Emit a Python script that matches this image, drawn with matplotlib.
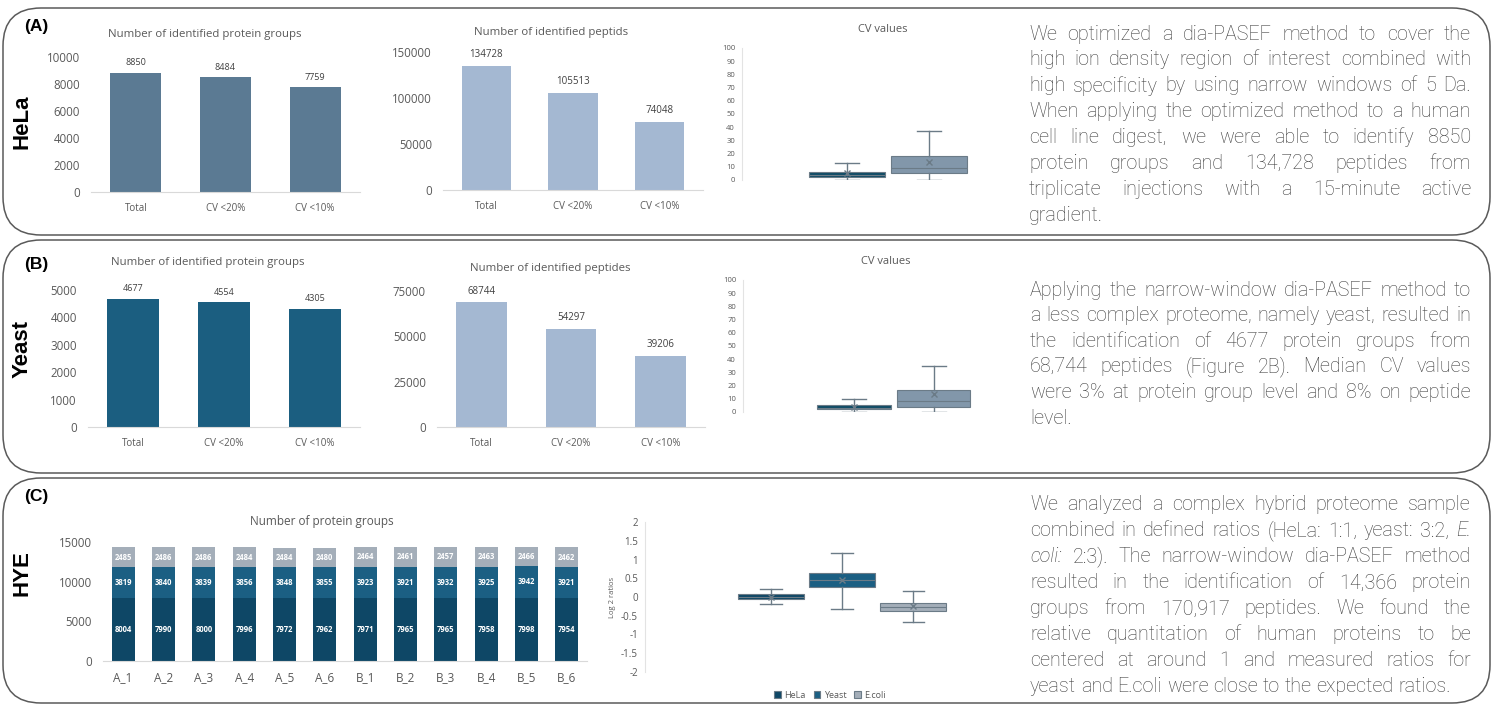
import matplotlib
matplotlib.use('Agg')
import matplotlib.pyplot as plt
from matplotlib.patches import FancyBboxPatch

W, H = 1494, 704

# ---- data ----
cv_cats = ['Total', 'CV <20%', 'CV <10%']
hela_prot = [8850, 8484, 7759]
hela_pep = [134728, 105513, 74048]
yeast_prot = [4677, 4554, 4305]
yeast_pep = [68744, 54297, 39206]

cv_labels = ['Protein Groups', 'Peptides']
# whislo, q1, median, q3, whishi, mean
hela_cv_prot = [0, 2, 4, 6, 13, 5]
hela_cv_pep = [0, 5, 9, 18, 37, 14]
yeast_cv_prot = [0, 2, 3, 5, 10, 4]
yeast_cv_pep = [0, 4, 8, 17, 35, 14]

runs = ['A_1', 'A_2', 'A_3', 'A_4', 'A_5', 'A_6',
        'B_1', 'B_2', 'B_3', 'B_4', 'B_5', 'B_6']
hye_hela = [8004, 7990, 8000, 7996, 7972, 7962, 7971, 7965, 7965, 7958, 7998, 7954]
hye_yeast = [3819, 3840, 3839, 3856, 3848, 3855, 3923, 3921, 3932, 3925, 3942, 3921]
hye_ecoli = [2485, 2486, 2486, 2484, 2484, 2480, 2464, 2461, 2457, 2463, 2466, 2462]

species = ['HeLa', 'Yeast', 'E.coli']
log2_hela = [-0.19, -0.05, 0.0, 0.07, 0.21, 0.01]
log2_yeast = [-0.32, 0.27, 0.45, 0.64, 1.17, 0.45]
log2_ecoli = [-0.67, -0.37, -0.27, -0.16, 0.16, -0.25]

text_a = ["We optimized a dia-PASEF method to cover the",
          "high ion density region of interest combined with",
          "high specificity by using narrow windows of 5 Da.",
          "When applying the optimized method to a human",
          "cell line digest, we were able to identify 8850",
          "protein groups and 134,728 peptides from",
          "triplicate injections with a 15-minute active",
          "gradient."]
text_b = ["Applying the narrow-window dia-PASEF method to",
          "a less complex proteome, namely yeast, resulted in",
          "the identification of 4677 protein groups from",
          "68,744 peptides (Figure 2B). Median CV values",
          "were 3% at protein group level and 8% on peptide",
          "level."]
text_c = ["We analyzed a complex hybrid proteome sample",
          "combined in defined ratios (HeLa: 1:1, yeast: 3:2, E.",
          "coli: 2:3). The narrow-window dia-PASEF method",
          "resulted in the identification of 14,366 protein",
          "groups from 170,917 peptides. We found the",
          "relative quantitation of human proteins to be",
          "centered at around 1 and measured ratios for",
          "yeast and E.coli were close to the expected ratios."]

plt.rcParams['font.family'] = ['Open Sans', 'DejaVu Sans']
GREY = '#595959'

fig = plt.figure(figsize=(W / 100, H / 100), dpi=100)

# background axes in pixel coordinates (y downwards)
bg = fig.add_axes([0, 0, 1, 1])
bg.set_xlim(0, W)
bg.set_ylim(H, 0)
bg.axis('off')
bg.set_zorder(-5)

for y0, y1 in [(8, 235), (240, 473), (478, 703)]:
    bg.add_patch(FancyBboxPatch((3, y0), W - 7, y1 - y0,
                                boxstyle='round,pad=0,rounding_size=38',
                                fc='white', ec='#5a5a5a', lw=1.1))

for lab, name, yl, yn in [('(A)', 'HeLa', 26, 122), ('(B)', 'Yeast', 264, 349),
                          ('(C)', 'HYE', 497, 573)]:
    bg.text(24, yl, lab, fontsize=12.5, weight='bold', family='Liberation Sans',
            va='center', ha='left')
    bg.text(22, yn, name, fontsize=16, weight='bold', family='Liberation Sans',
            rotation=90, va='center', ha='center')


def px_axes(x0, y0, x1, y1):
    return fig.add_axes([x0 / W, 1 - y1 / H, (x1 - x0) / W, (y1 - y0) / H])


def clean(ax, left=False, bottom=True, size=8, pad=8):
    for s in ['top', 'right', 'left', 'bottom']:
        ax.spines[s].set_visible(False)
    if bottom:
        ax.spines['bottom'].set_visible(True)
        ax.spines['bottom'].set_color('#d9d9d9')
    if left:
        ax.spines['left'].set_visible(True)
        ax.spines['left'].set_color('#e3e3e3')
    ax.tick_params(length=0, labelsize=size, colors=GREY, pad=pad)
    ax.patch.set_alpha(0)


def bar_panel(box, values, color, ymax, step, lab_size, title, tx, ty):
    ax = px_axes(*box)
    bars = ax.bar(cv_cats, values, width=0.57, color=color)
    ax.bar_label(bars, padding=4, fontsize=lab_size, color='#404040')
    ax.set_ylim(0, ymax)
    ax.set_yticks(range(0, ymax + 1, step))
    ax.set_xlim(-0.5, 2.5)
    clean(ax, size=8.3)
    ax.tick_params(axis='x', labelsize=7, pad=8)
    bg.text(tx, ty, title, ha='center', va='center', fontsize=8.2, color=GREY)
    return ax


def box_panel(box, stats_vals, labels, colors, xlim, ylim, yticks, ysize, width=0.92):
    ax = px_axes(*box)
    stats = [dict(whislo=s[0], q1=s[1], med=s[2], q3=s[3], whishi=s[4], mean=s[5], label=l)
             for s, l in zip(stats_vals, labels)]
    line = dict(color='#6b7b87', lw=1)
    art = ax.bxp(stats, positions=range(1, len(stats) + 1), widths=width,
                 capwidths=0.3, patch_artist=True, showmeans=True, showfliers=False,
                 whiskerprops=line, capprops=line,
                 medianprops=dict(color='#6b7b87', lw=0.8),
                 meanprops=dict(marker='x', markeredgecolor='#6b7b87', markersize=4),
                 boxprops=dict(lw=0.8))
    for b, c in zip(art['boxes'], colors):
        b.set_facecolor(c)
        b.set_edgecolor('#6b7b87')
    ax.set_xlim(*xlim)
    ax.set_ylim(*ylim)
    ax.set_yticks(yticks)
    ax.set_xticks([])
    clean(ax, left=True, bottom=False, size=ysize, pad=5)
    return ax, art['boxes']


def legend(handles, labels, x, y, size):
    bg.legend(handles, labels, loc='center', bbox_to_anchor=(x, y),
              bbox_transform=bg.transData, ncol=len(labels), frameon=False,
              fontsize=size, handlelength=0.7, handleheight=0.7,
              handletextpad=0.4, columnspacing=0.9, labelcolor=GREY)


# ---- row A ----
bar_panel((91, 57, 360, 192), hela_prot, '#5b7a93', 10000, 2000, 6.5,
          'Number of identified protein groups', 205, 34)
bar_panel((443, 52, 703, 190), hela_pep, '#a4b8d2', 150000, 50000, 7,
          'Number of identified peptids', 551, 33)
ax, boxes = box_panel((742, 48, 992, 180), [hela_cv_prot, hela_cv_pep], cv_labels,
                      ['#0f4c66', '#8297aa'], (-0.28, 2.77), (0, 100),
                      range(0, 101, 10), 5.5)
bg.text(883, 30, 'CV values', ha='center', va='center', fontsize=8, color=GREY)
legend(boxes, cv_labels, 885, 202, 6)

# ---- row B ----
bar_panel((88, 290, 360, 427), yeast_prot, '#1b5e80', 5000, 1000, 6.5,
          'Number of identified protein groups', 208, 262)
bar_panel((437, 291, 705, 427), yeast_pep, '#a4b8d2', 75000, 25000, 7,
          'Number of identified peptides', 550, 268)
ax, boxes = box_panel((743, 280, 992, 412), [yeast_cv_prot, yeast_cv_pep], cv_labels,
                      ['#0f4c66', '#8297aa'], (-0.39, 2.73), (0, 100),
                      range(0, 101, 10), 5.5)
bg.text(886, 262, 'CV values', ha='center', va='center', fontsize=8, color=GREY)
legend(boxes, cv_labels, 887, 433, 6)

# ---- row C ----
ax = px_axes(103, 542, 587, 661)
b1 = ax.bar(runs, hye_hela, width=0.57, color='#0e4766')
b2 = ax.bar(runs, hye_yeast, width=0.57, bottom=hye_hela, color='#1b5f83')
tops = [a + b for a, b in zip(hye_hela, hye_yeast)]
b3 = ax.bar(runs, hye_ecoli, width=0.57, bottom=tops, color='#a4aeb9')
for bars in (b1, b2, b3):
    ax.bar_label(bars, label_type='center', fontsize=5.5, color='white', weight='bold')
ax.set_ylim(0, 15000)
ax.set_yticks(range(0, 15001, 5000))
ax.set_xlim(-0.5, 11.5)
clean(ax, size=8.3)
ax.tick_params(axis='x', pad=7, labelsize=8.5)
bg.text(322, 522, 'Number of protein groups', ha='center', va='center',
        fontsize=8.5, color=GREY)
legend([b1, b2, b3], species, 328, 697, 6.5)

ax, boxes = box_panel((645, 522, 990, 672), [log2_hela, log2_yeast, log2_ecoli], species,
                      ['#0e4766', '#1b5f83', '#a4aeb9'], (-0.77, 4.08), (-2, 2),
                      [-2, -1.5, -1, -0.5, 0, 0.5, 1, 1.5, 2], 7)
ax.set_yticklabels(['-2', '-1.5', '-1', '-0.5', '0', '0.5', '1', '1.5', '2'])
ax.set_ylabel('Log 2 ratios', fontsize=5.5, color=GREY, labelpad=4)
legend(boxes, species, 830, 695, 6.5)

# ---- justified paragraphs ----
renderer = fig.canvas.get_renderer()
TXT = dict(fontsize=14.2, family=['Roboto', 'DejaVu Sans'], weight='light', color='#3c3c3c')


def width_of(s, **kw):
    t = bg.text(0, 0, s, **kw)
    w = t.get_window_extent(renderer).width
    t.remove()
    return w


space = width_of('a a', **TXT) - width_of('aa', **TXT)


def paragraph(lines, x0, x1, y0, dy, italic=()):
    for i, line in enumerate(lines):
        words = line.split()
        arts = [bg.text(0, y0 + i * dy, w, va='center', ha='left',
                        style='italic' if w in italic else 'normal', **TXT)
                for w in words]
        widths = [t.get_window_extent(renderer).width for t in arts]
        if i == len(lines) - 1 or len(words) < 2:
            gap = space
        else:
            gap = (x1 - x0 - sum(widths)) / (len(words) - 1)
        x = x0
        for t, w in zip(arts, widths):
            t.set_x(x)
            x += w + gap


paragraph(text_a, 1029, 1471, 34, 25.9)
paragraph(text_b, 1030, 1471, 290, 25.6)
paragraph(text_c, 1030, 1471, 505, 26.0, italic={'E.', 'coli:'})

fig.savefig('out.png', dpi=100)
